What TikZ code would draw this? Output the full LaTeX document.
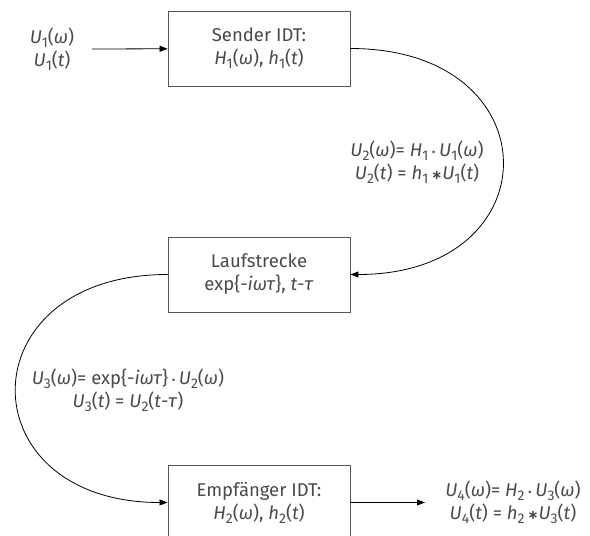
\documentclass[tikz,border=0pt]{standalone}
\usepackage{fontspec}
\setmainfont{Fira Sans}
\newfontfamily\symfont{DejaVu Sans}
\usepackage{xcolor}
\usepackage{tikz}
\usetikzlibrary{arrows.meta}

\definecolor{txtgray}{HTML}{4A4A4A}
\definecolor{boxgray}{HTML}{555555}

\newcommand{\vr}[2]{\textit{#1}\raisebox{-0.4ex}{\fontsize{14}{14}\selectfont #2}}
\newcommand{\mdot}{\,{\symfont\fontsize{12}{12}\selectfont\bfseries ·}\,}
\newcommand{\conv}{\,{\symfont\fontsize{13}{13}\selectfont\bfseries ∗}}

\begin{document}
\begin{tikzpicture}[x=1pt, y=-1pt,
        box/.style={rectangle, draw=boxgray, line width=0.9pt, minimum width=182pt, minimum height=75pt, align=center, text=txtgray, font=\fontsize{18.5}{23}\selectfont},
        lbl/.style={align=center, text=txtgray, font=\fontsize{18.5}{23}\selectfont},
        arrow/.style={-{Triangle[length=8pt, width=6pt]}, line width=0.8pt}
    ]
        \useasboundingbox (0,0) rectangle (590,536);
        \clip (0,0) rectangle (590,536);

        \node[box] (sender) at (259,48.5) {Sender IDT:\\\vr{H}{1}(\textit{ω}), \vr{h}{1}(\textit{t})};
        \node[box] (lauf) at (259,274.5) {Laufstrecke\\exp\{-\textit{iωτ}\}, \textit{t}-\textit{τ}};
        \node[box] (empf) at (259,502.5) {Empfänger IDT:\\\vr{H}{2}(\textit{ω}), \vr{h}{2}(\textit{t})};

        \node[lbl] (input) at (52,49) {\vr{U}{1}(\textit{ω})\\\vr{U}{1}(\textit{t})};
        \coordinate (instart) at (92,49);
        \coordinate (outend) at (425,502.5);
        \node[lbl] (output) at (513,502.5) {\vr{U}{4}(\textit{ω})= \vr{H}{2}\mdot\vr{U}{3}(\textit{ω})\\\vr{U}{4}(\textit{t}) = \vr{h}{2}\conv\vr{U}{3}(\textit{t})};

        \draw[arrow] (instart) -- (sender);
        \draw[arrow] (sender.east) to[out=0, in=0, looseness=2.3] (lauf.east);
        \draw[arrow] (lauf.west) to[out=180, in=180, looseness=2.27] (empf.west);
        \draw[arrow] (empf.east) -- (outend);

        \node[lbl] (ueb) at (417,162) {\vr{U}{2}(\textit{ω})= \vr{H}{1}\mdot\vr{U}{1}(\textit{ω})\\\vr{U}{2}(\textit{t}) = \vr{h}{1}\conv\vr{U}{1}(\textit{t})};
        \node[lbl] (verz) at (128,390) {\vr{U}{3}(\textit{ω})= exp\{-\textit{iωτ}\}\mdot\vr{U}{2}(\textit{ω})\\\vr{U}{3}(\textit{t}) = \vr{U}{2}(\textit{t}-\textit{τ})};
    \end{tikzpicture}
\end{document}
